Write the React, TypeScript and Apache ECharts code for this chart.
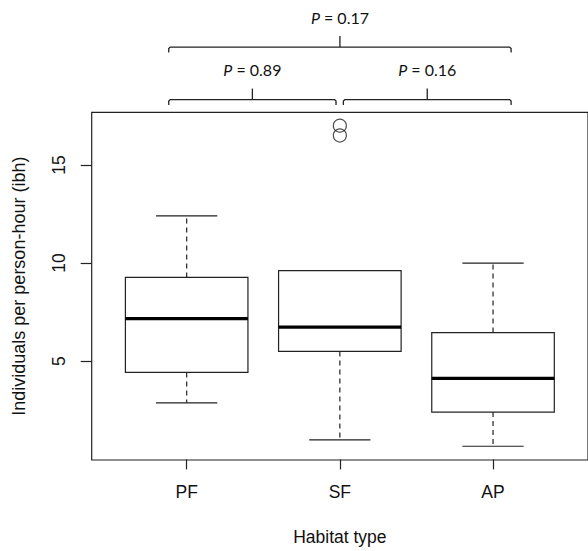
import React, { useEffect, useRef } from "react";
import * as echarts from "echarts";

// Categories and box statistics: [min, Q1, median, Q3, max]
const categories = ["PF", "SF", "AP"];
const lowerWhisker = [2.88, 1.0, 0.67];
const q1 = [4.43, 5.5, 2.41];
const median = [7.17, 6.74, 4.13];
const q3 = [9.27, 9.62, 6.46];
const upperWhisker = [12.4, 9.62, 10.0];
// Outliers: [category position, value]
const outlierPos = [2, 2];
const outlierVal = [17.0, 16.5];
// Y tick labels
const yTicks = [5, 10, 15];
// Significance brackets
const bracketFrom = [0.883, 0.883, 2.023];
const bracketTo = [3.118, 1.975, 3.118];
const bracketLevel = [21.0, 18.33, 18.33];
const bracketP = ["0.17", "0.89", "0.16"];

export default function App() {
  const ref = useRef<HTMLDivElement>(null);
  useEffect(() => {
    if (!ref.current) return;
    const chart = echarts.init(ref.current, undefined, { renderer: "svg" });
    const lineColor = "#222";
    const boxData = categories.map((_, i) => [
      i + 1,
      lowerWhisker[i],
      q1[i],
      median[i],
      q3[i],
      upperWhisker[i],
    ]);
    const bracketData = bracketFrom.map((f, i) => [f, bracketTo[i], bracketLevel[i], i]);
    const outlierData = outlierPos.map((p, i) => [p, outlierVal[i]]);

    chart.setOption({
      animation: false,
      grid: {
        left: 91.7,
        top: 112.3,
        width: 500.6,
        height: 352.4,
        show: true,
        borderColor: lineColor,
        borderWidth: 1.2,
        backgroundColor: "transparent",
      },
      xAxis: {
        type: "value",
        min: 0.38,
        max: 3.62,
        splitLine: { show: false },
        axisLine: { show: false },
        axisTick: {
          show: true,
          length: 10,
          customValues: [1, 2, 3],
          lineStyle: { color: lineColor, width: 1.2 },
        },
        axisLabel: {
          customValues: [1, 2, 3],
          formatter: (v: number) => categories[Math.round(v) - 1] ?? "",
          fontFamily: "Liberation Sans",
          fontSize: 17.5,
          color: "#111",
          margin: 23,
        },
        name: "Habitat type",
        nameLocation: "middle",
        nameGap: 68,
        nameTextStyle: { fontFamily: "Liberation Sans", fontSize: 17.5, color: "#111" },
      },
      yAxis: {
        type: "value",
        min: -0.03,
        max: 17.68,
        splitLine: { show: false },
        axisLine: { show: false },
        axisTick: {
          show: true,
          length: 11,
          customValues: yTicks,
          lineStyle: { color: lineColor, width: 1.2 },
        },
        axisLabel: {
          customValues: yTicks,
          rotate: 90,
          fontFamily: "Liberation Sans",
          fontSize: 17.5,
          color: "#111",
          margin: 24,
        },
        name: "Individuals per person-hour (ibh)",
        nameLocation: "middle",
        nameGap: 64,
        nameTextStyle: { fontFamily: "Liberation Sans", fontSize: 18, color: "#111" },
      },
      series: [
        {
          type: "custom",
          clip: false,
          data: boxData,
          encode: { x: 0, y: [1, 2, 3, 4, 5] },
          renderItem: (params: any, api: any) => {
            const x = api.value(0);
            const pMin = api.coord([x, api.value(1)]);
            const pQ1 = api.coord([x, api.value(2)]);
            const pMed = api.coord([x, api.value(3)]);
            const pQ3 = api.coord([x, api.value(4)]);
            const pMax = api.coord([x, api.value(5)]);
            const left = api.coord([x - 0.4, 0])[0];
            const right = api.coord([x + 0.4, 0])[0];
            const capL = api.coord([x - 0.2, 0])[0];
            const capR = api.coord([x + 0.2, 0])[0];
            const cx = pMed[0];
            const solid = { stroke: lineColor, lineWidth: 1.2, fill: "none" };
            const dashed = { stroke: lineColor, lineWidth: 1.2, lineDash: [5, 4] };
            const children: any[] = [];
            if (pMax[1] < pQ3[1] - 0.5) {
              children.push({ type: "line", shape: { x1: cx, y1: pQ3[1], x2: cx, y2: pMax[1] }, style: dashed });
              children.push({ type: "line", shape: { x1: capL, y1: pMax[1], x2: capR, y2: pMax[1] }, style: solid });
            }
            children.push({ type: "line", shape: { x1: cx, y1: pQ1[1], x2: cx, y2: pMin[1] }, style: dashed });
            children.push({ type: "line", shape: { x1: capL, y1: pMin[1], x2: capR, y2: pMin[1] }, style: solid });
            children.push({
              type: "rect",
              shape: { x: left, y: pQ3[1], width: right - left, height: pQ1[1] - pQ3[1] },
              style: { stroke: lineColor, lineWidth: 1.2, fill: "#fff" },
            });
            children.push({
              type: "line",
              shape: { x1: left, y1: pMed[1], x2: right, y2: pMed[1] },
              style: { stroke: "#000", lineWidth: 3.2 },
            });
            return { type: "group", children };
          },
        },
        {
          type: "scatter",
          data: outlierData,
          symbol: "circle",
          symbolSize: 13,
          itemStyle: { color: "transparent", borderColor: lineColor, borderWidth: 1.2 },
        },
        {
          type: "custom",
          clip: false,
          data: bracketData,
          encode: { x: [0, 1], y: 2 },
          renderItem: (params: any, api: any) => {
            const a = api.coord([api.value(0), api.value(2)]);
            const b = api.coord([api.value(1), api.value(2)]);
            const idx = api.value(3);
            const y = a[1];
            const mid = (a[0] + b[0]) / 2;
            const st = { stroke: lineColor, lineWidth: 1.3, fill: "none" };
            return {
              type: "group",
              children: [
                {
                  type: "polyline",
                  shape: {
                    points: [
                      [a[0], y + 5.5],
                      [a[0], y + 1.5],
                      [a[0] + 1.5, y],
                      [b[0] - 1.5, y],
                      [b[0], y + 1.5],
                      [b[0], y + 5.5],
                    ],
                  },
                  style: st,
                },
                { type: "line", shape: { x1: mid, y1: y, x2: mid, y2: y - 11 }, style: st },
                {
                  type: "text",
                  x: mid,
                  y: y - 30,
                  style: {
                    text: "{i|P} = " + bracketP[idx],
                    align: "center",
                    verticalAlign: "middle",
                    font: "16px Lato",
                    fill: "#111",
                    rich: { i: { fontStyle: "italic", fontFamily: "Lato", fontSize: 16, fill: "#111" } },
                  },
                },
              ],
            };
          },
        },
      ],
    });
    return () => chart.dispose();
  }, []);
  return (
    <div
      ref={ref}
      style={{ position: "fixed", left: 0, top: 0, width: 588, height: 551, background: "#fff" }}
    />
  );
}
